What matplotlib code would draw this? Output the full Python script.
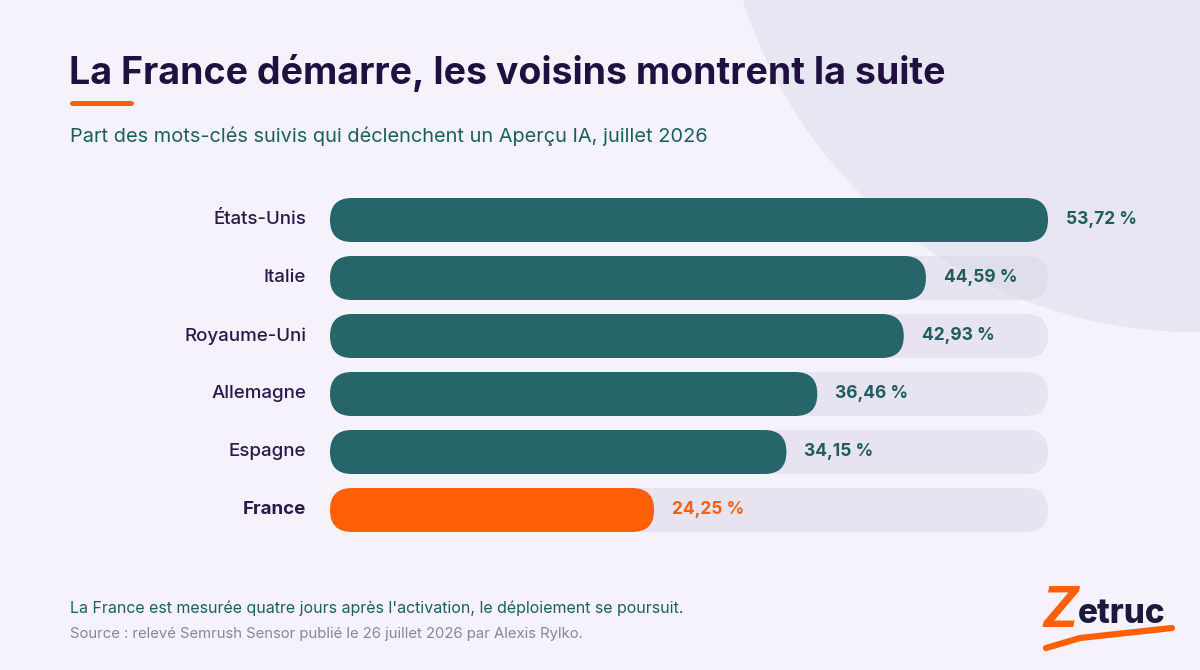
import matplotlib.pyplot as plt
from matplotlib.patches import FancyBboxPatch, Circle

# données
pays = ['États-Unis', 'Italie', 'Royaume-Uni', 'Allemagne', 'Espagne', 'France']
valeurs = [53.72, 44.59, 42.93, 36.46, 34.15, 24.25]
etiquettes = ['53,72 %', '44,59 %', '42,93 %', '36,46 %', '34,15 %', '24,25 %']

FOND = '#f5f2fc'
CERCLE = '#e9e6f3'
TEAL = '#26666a'
ORANGE = '#ff6005'
VIOLET = '#1f1040'
PISTE = '#dcd8e8'

plt.rcParams['font.family'] = ['Inter', 'DejaVu Sans']

W, H = 1200, 670
fig = plt.figure(figsize=(12, 6.7), dpi=100, facecolor=FOND)

# fond avec le grand cercle
bg = fig.add_axes([0, 0, 1, 1])
bg.set_xlim(0, W)
bg.set_ylim(H, 0)
bg.axis('off')
bg.add_patch(Circle((1195, -142), 474, color=CERCLE, lw=0))

# titre, trait, sous-titre
bg.text(69, 73, 'La France démarre, les voisins montrent la suite', fontsize=27,
        fontweight='bold', color=VIOLET, va='center', ha='left')
bg.plot([72, 131], [103, 103], color=ORANGE, lw=3.6, solid_capstyle='round')
bg.text(70, 136, 'Part des mots-clés suivis qui déclenchent un Aperçu IA, juillet 2026',
        fontsize=14.4, color='#1d5f60', va='center', ha='left')

# notes
bg.text(70, 608, "La France est mesurée quatre jours après l'activation, le déploiement se poursuit.",
        fontsize=11.5, color='#1d5f60', va='center', ha='left')
bg.text(70, 634, 'Source : relevé Semrush Sensor publié le 26 juillet 2026 par Alexis Rylko.',
        fontsize=10.7, color='#8a83a0', va='center', ha='left')

# logo
bg.plot([1046, 1080, 1172], [648, 638, 628], color=ORANGE, lw=4.5, solid_capstyle='round')
bg.text(1060, 612, 'Z', fontsize=40, fontweight='bold', style='italic', color=ORANGE,
        va='center', ha='center')
bg.text(1122, 614, 'etruc', fontsize=24, fontweight='heavy', color='#1c1a3c',
        va='center', ha='center')

# barres
x0, x1 = 330, 1048
ytop, pas = 191, 58
n = len(pays)
ax = fig.add_axes([x0 / W, 1 - (ytop + n * pas) / H, (x1 - x0) / W, n * pas / H])
ax.set_xlim(0, max(valeurs))
ax.set_ylim(n - 0.5, -0.5)
ax.axis('off')

px_x = max(valeurs) / (x1 - x0)   # unités x par pixel
px_y = 1 / pas                    # unités y par pixel
h = 44 * px_y
r = 22 * px_x
asp = px_y / px_x

for i, (p, v, lab) in enumerate(zip(pays, valeurs, etiquettes)):
    couleur = ORANGE if p == 'France' else TEAL
    ax.add_patch(FancyBboxPatch((0, i - h / 2), max(valeurs), h,
                                boxstyle=f'round,pad=0,rounding_size={r}',
                                mutation_aspect=asp, fc=PISTE, ec='none', alpha=0.55))
    ax.add_patch(FancyBboxPatch((0, i - h / 2), v, h,
                                boxstyle=f'round,pad=0,rounding_size={r}',
                                mutation_aspect=asp, fc=couleur, ec='none'))
    ax.annotate(p, (0, i), xytext=(-24 * 0.72, 0), textcoords='offset points',
                ha='right', va='center', fontsize=13.5, color='#2a1a4c',
                fontweight='bold' if p == 'France' else 'medium', annotation_clip=False)
    ax.annotate(lab, (v, i), xytext=(18 * 0.72, 0), textcoords='offset points',
                ha='left', va='center', fontsize=12.5, fontweight='bold',
                color=ORANGE if p == 'France' else '#1f5d60', annotation_clip=False)

fig.savefig('out.png', dpi=100, facecolor=FOND)
